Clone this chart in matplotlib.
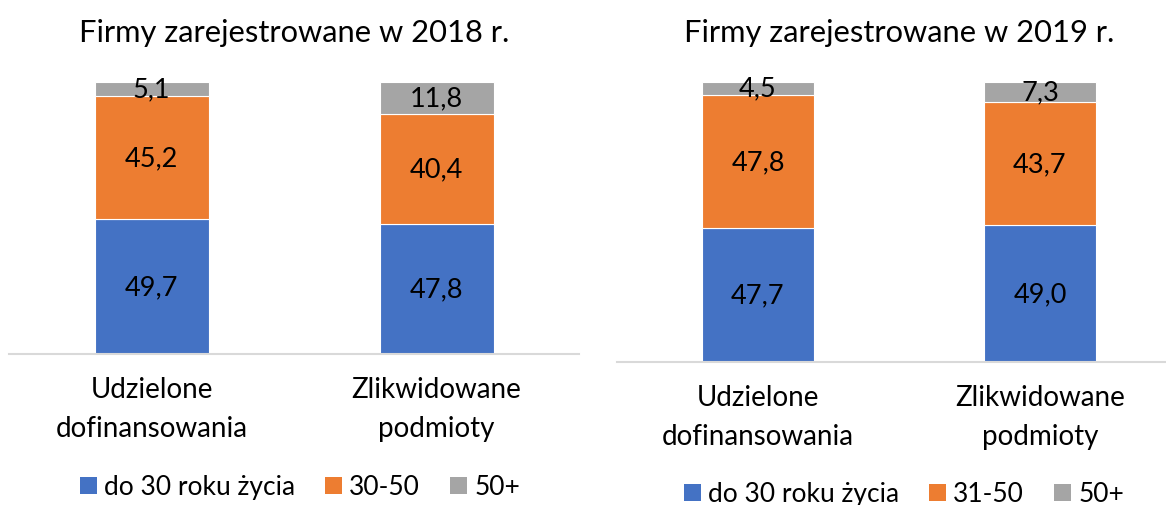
import matplotlib
matplotlib.use("Agg")
import matplotlib.pyplot as plt
from matplotlib.patches import Patch

plt.rcParams['font.family'] = ['Lato', 'DejaVu Sans']

categories = ["Udzielone\ndofinansowania", "Zlikwidowane\npodmioty"]
titles = ["Firmy zarejestrowane w 2018 r.", "Firmy zarejestrowane w 2019 r."]

under30_2018 = [49.7, 47.8]
mid_2018 = [45.2, 40.4]
over50_2018 = [5.1, 11.8]

under30_2019 = [47.7, 49.0]
mid_2019 = [47.8, 43.7]
over50_2019 = [4.5, 7.3]

legend_2018 = ["do 30 roku życia", "30-50", "50+"]
legend_2019 = ["do 30 roku życia", "31-50", "50+"]

colors = ["#4472C4", "#ED7D31", "#A5A5A5"]

W, H = 1166, 506
fig = plt.figure(figsize=(W / 100, H / 100), dpi=100)


def px_axes(x0, x1, ytop, ybot):
    return fig.add_axes([x0 / W, (H - ybot) / H, (x1 - x0) / W, (ybot - ytop) / H])


def fmt(v):
    return f"{v:.1f}".replace('.', ',')


def draw(ax, series, title, leg_labels, leg_x, leg_y, title_y):
    x = list(range(len(categories)))
    bottom = [0] * len(categories)
    for vals, c in zip(series, colors):
        bars = ax.bar(x, vals, width=0.4, bottom=bottom, color=c,
                      edgecolor="white", linewidth=0.8)
        ax.bar_label(bars, labels=[fmt(v) for v in vals], label_type='center',
                     fontsize=19.5, color="black")
        bottom = [b + v for b, v in zip(bottom, vals)]
    ax.set_xlim(-0.5, 1.5)
    ax.set_ylim(0, 100)
    for s in ["top", "left", "right"]:
        ax.spines[s].set_visible(False)
    ax.spines["bottom"].set_color("#D9D9D9")
    ax.spines["bottom"].set_linewidth(1.5)
    ax.set_yticks([])
    ax.set_xticks(x)
    ax.set_xticklabels(categories, fontsize=20, linespacing=1.6)
    ax.tick_params(axis='x', length=0, pad=16)
    pos = ax.get_position()
    fig.text(pos.x0 + pos.width / 2, (H - title_y) / H, title, fontsize=22.2,
             ha='center', va='center')
    handles = [Patch(facecolor=c, edgecolor='none') for c in colors]
    fig.legend(handles, leg_labels, loc='center', bbox_to_anchor=(leg_x / W, (H - leg_y) / H),
               ncol=3, frameon=False, fontsize=19, handlelength=0.64, handleheight=0.64,
               handletextpad=0.27, columnspacing=1.14, borderaxespad=0, borderpad=0)


ax1 = px_axes(9, 579, 83, 355)
ax2 = px_axes(617, 1181, 83, 363)

draw(ax1, [under30_2018, mid_2018, over50_2018], titles[0], legend_2018, 300, 488, 33)
draw(ax2, [under30_2019, mid_2019, over50_2019], titles[1], legend_2019, 904, 495, 33)

fig.savefig("out.png", dpi=100)
